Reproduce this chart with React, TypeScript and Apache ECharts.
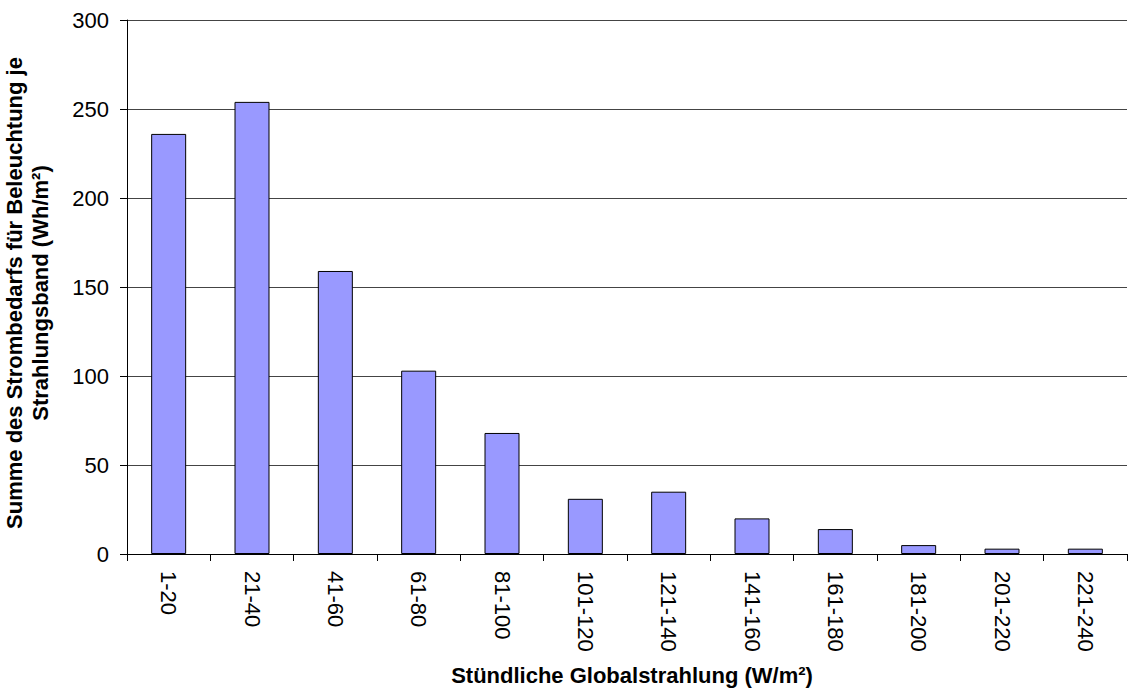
import React, { useEffect, useRef } from "react";
import * as echarts from "echarts";

const categories = ["1-20", "21-40", "41-60", "61-80", "81-100", "101-120", "121-140", "141-160", "161-180", "181-200", "201-220", "221-240"];
const values = [236, 254, 159, 103, 68, 31, 35, 20, 14, 5, 3, 3];
const yTitle = "Summe des Strombedarfs für Beleuchtung je\nStrahlungsband (Wh/m²)";
const xTitle = "Stündliche Globalstrahlung (W/m²)";

const FONT = "Arial, 'Liberation Sans', sans-serif";

export default function App() {
  const ref = useRef<HTMLDivElement>(null);
  useEffect(() => {
    const chart = echarts.init(ref.current!, null, { renderer: "svg" });
    chart.setOption({
      animation: false,
      backgroundColor: "#ffffff",
      textStyle: { fontFamily: FONT },
      grid: { left: 127, right: 10, top: 20, bottom: 136, containLabel: false, outerBoundsMode: "none" },
      xAxis: {
        type: "category",
        data: categories,
        boundaryGap: true,
        axisLine: { lineStyle: { color: "#000", width: 1 } },
        axisTick: { show: true, length: 7, alignWithLabel: false, lineStyle: { color: "#000" } },
        axisLabel: { rotate: -90, fontSize: 22, color: "#000", margin: 17, fontFamily: FONT },
        name: xTitle,
        nameLocation: "middle",
        nameGap: 110,
        nameTextStyle: { fontSize: 22, fontWeight: "bold", color: "#000", fontFamily: FONT, padding: [0, 0, 0, 10] },
      },
      yAxis: {
        type: "value",
        min: 0,
        max: 300,
        interval: 50,
        axisLine: { show: true, lineStyle: { color: "#000", width: 1 } },
        axisTick: { show: true, length: 7, lineStyle: { color: "#000" } },
        axisLabel: { fontSize: 22, color: "#000", margin: 18, fontFamily: FONT },
        splitLine: { show: true, lineStyle: { color: "#444", width: 1 } },
        name: yTitle,
        nameLocation: "middle",
        nameRotate: 90,
        nameGap: 74,
        nameTextStyle: { fontSize: 22, fontWeight: "bold", color: "#000", lineHeight: 26, fontFamily: FONT, padding: [0, 12, 0, 0] },
      },
      series: [
        {
          type: "bar",
          data: values,
          barWidth: 35,
          itemStyle: { color: "#9999FF", borderColor: "#000", borderWidth: 1 },
        },
      ],
    });
    return () => chart.dispose();
  }, []);
  return <div ref={ref} style={{ position: "absolute", left: 0, top: 0, width: 1137, height: 690 }} />;
}
